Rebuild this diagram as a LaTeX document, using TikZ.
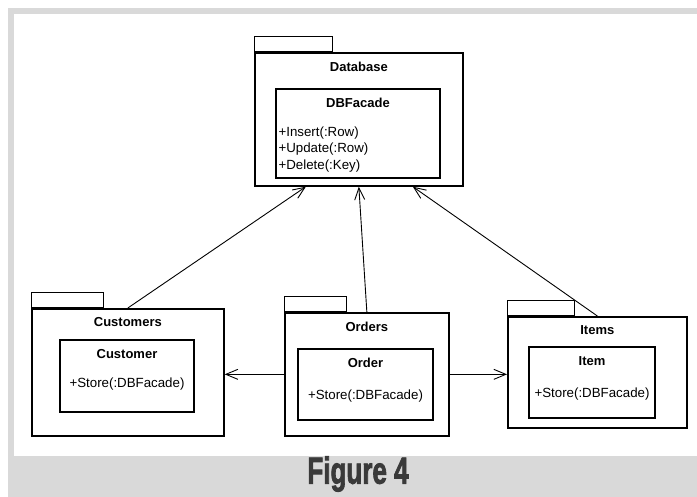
\documentclass[tikz,border=0pt]{standalone}
\usepackage{fontspec}
\setmainfont{Liberation Sans}
\newfontfamily\capfont{Liberation Sans}[FakeBold=2.5]
\usepackage{xcolor}
\usetikzlibrary{arrows.meta,positioning}
\definecolor{framegray}{HTML}{D9D9D9}
\definecolor{capgray}{HTML}{3A3A3A}

\begin{document}
\begin{tikzpicture}[
  x=1pt, y=-1pt,
  pkg/.style={draw, line width=1.7pt, inner sep=0pt, anchor=north west},
  tab/.style={draw, line width=1pt, inner sep=0pt, anchor=south west},
  cls/.style={draw, line width=1.3pt, inner sep=0pt},
  pkgname/.style={font=\fontsize{13}{15}\selectfont\bfseries, inner sep=0pt},
  ops/.style={font=\fontsize{13.3}{16.5}\selectfont, inner sep=0pt, align=left},
  arr/.style={-{Straight Barb[length=12pt,width=10pt]}, line width=0.9pt}
]
\useasboundingbox (0,0) rectangle (697,497);
\fill[framegray] (8,8) rectangle (697,497);
\fill[white] (14,14) rectangle (697,456);

\node[pkg, minimum width=208, minimum height=133] (db) at (254,52) {};
\node[tab, minimum width=78, minimum height=15] (dbtab) at (db.north west) {};
\node[pkgname] (dbname) at ([yshift=-15pt]db.north) {Database};
\node[cls, minimum width=164, minimum height=89] (dbf) at (358,133.5) {};
\node[pkgname] (dbfname) at ([yshift=-15pt]dbf.north) {DBFacade};
\node[ops, anchor=north west] (dbfops) at ([xshift=3pt,yshift=-38pt]dbf.north west) {+Insert(:Row)\\+Update(:Row)\\+Delete(:Key)};

\node[pkg, minimum width=192, minimum height=127] (cust) at (31,308) {};
\node[tab, minimum width=72, minimum height=15] (custtab) at (cust.north west) {};
\node[pkgname] (custname) at ([yshift=-14pt]cust.north) {Customers};
\node[cls, minimum width=134, minimum height=72] (customer) at (127,376) {};
\node[pkgname] (customername) at ([yshift=-15pt]customer.north) {Customer};
\node[ops] (customerops) at ([yshift=-45pt]customer.north) {+Store(:DBFacade)};

\node[pkg, minimum width=164, minimum height=123] (ord) at (284,312) {};
\node[tab, minimum width=62, minimum height=15] (ordtab) at (ord.north west) {};
\node[pkgname] (ordname) at ([yshift=-15pt]ord.north) {Orders};
\node[cls, minimum width=135, minimum height=71] (order) at (365.5,384.5) {};
\node[pkgname] (ordername) at ([yshift=-15pt]order.north) {Order};
\node[ops] (orderops) at ([yshift=-48pt]order.north) {+Store(:DBFacade)};

\node[pkg, minimum width=179, minimum height=111] (items) at (507,316) {};
\node[tab, minimum width=67, minimum height=15] (itemstab) at (items.north west) {};
\node[pkgname] (itemsname) at ([yshift=-14pt]items.north) {Items};
\node[cls, minimum width=126, minimum height=71] (item) at (592,382.5) {};
\node[pkgname] (itemname) at ([yshift=-15pt]item.north) {Item};
\node[ops] (itemops) at ([yshift=-48pt]item.north) {+Store(:DBFacade)};

\coordinate (dbl) at ([xshift=-53pt]db.south);
\coordinate (dbr) at ([xshift=54pt]db.south);

\draw[arr] (cust.north) -- (dbl);
\draw[arr] (ord.north) -- (db.south);
\draw[arr] (items.north) -- (dbr);
\draw[arr] (ord.west) -- (ord.west -| cust.east);
\draw[arr] (ord.east) -- (ord.east -| items.west);

\node[font=\fontsize{37.7}{40}\selectfont\capfont\bfseries, text=capgray, inner sep=0pt] (fig) at (358,474) {\scalebox{0.69}[1]{Figure 4}};
\end{tikzpicture}
\end{document}
